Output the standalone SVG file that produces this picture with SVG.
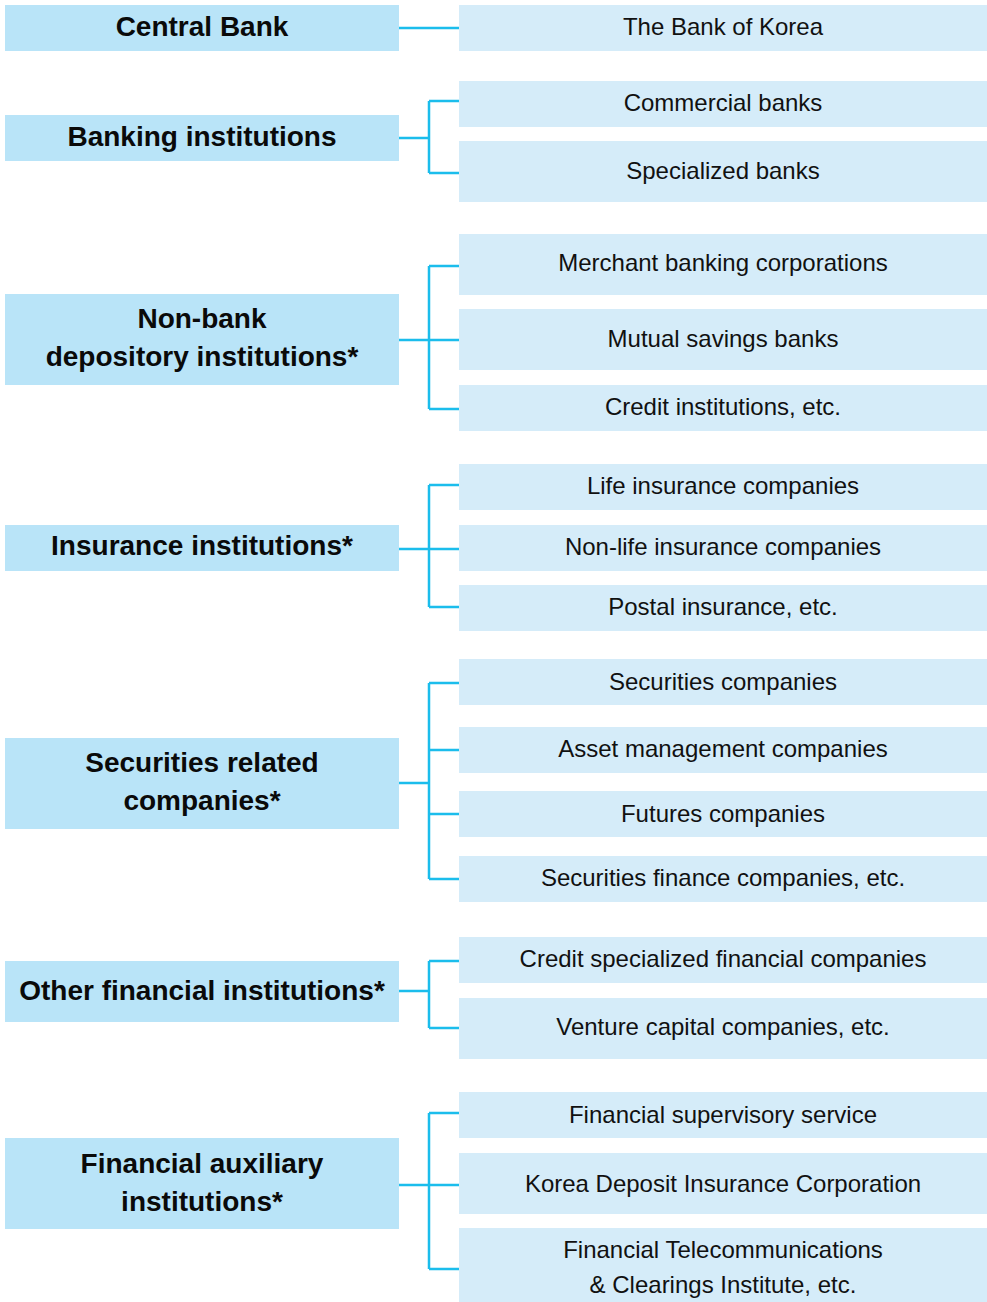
<svg xmlns="http://www.w3.org/2000/svg" width="987" height="1302" viewBox="0 0 987 1302">
  <style>
    .cat { fill: #b9e4f8; }
    .item { fill: #d5ecf9; }
    .lbl { font-family: "Liberation Sans", Arial, sans-serif; font-weight: bold; font-size: 28px; fill: #0a0a0a; text-anchor: middle; }
    .txt { font-family: "Liberation Sans", Arial, sans-serif; font-size: 24px; fill: #111; text-anchor: middle; }
    .wire { fill: none; stroke: #1bbdec; stroke-width: 2.5; }
  </style>
  <rect width="987" height="1302" fill="#ffffff"/>

  <!-- connectors: stub from category, vertical spine at x=429, branches to items -->
  <g id="connectors" class="wire">
    <path d="M399 28 H459"/>
    <path d="M399 138 H429 M429 101 V173 M429 101 H459 M429 173 H459"/>
    <path d="M399 340 H429 M429 266 V409 M429 266 H459 M429 340 H459 M429 409 H459"/>
    <path d="M399 549 H429 M429 485 V607 M429 485 H459 M429 549 H459 M429 607 H459"/>
    <path d="M399 783 H429 M429 683 V879 M429 683 H459 M429 750 H459 M429 814 H459 M429 879 H459"/>
    <path d="M399 991 H429 M429 961 V1028 M429 961 H459 M429 1028 H459"/>
    <path d="M399 1185 H429 M429 1113 V1269 M429 1113 H459 M429 1185 H459 M429 1269 H459"/>
  </g>

  <!-- categories -->
  <g id="central-bank">
    <rect class="cat" x="5" y="5" width="394" height="46"/>
    <text class="lbl" x="202" y="36">Central Bank</text>
  </g>
  <g id="banking">
    <rect class="cat" x="5" y="115" width="394" height="46"/>
    <text class="lbl" x="202" y="146">Banking institutions</text>
  </g>
  <g id="non-bank">
    <rect class="cat" x="5" y="294" width="394" height="91"/>
    <text class="lbl" x="202" y="328">Non-bank</text>
    <text class="lbl" x="202" y="366">depository institutions*</text>
  </g>
  <g id="insurance">
    <rect class="cat" x="5" y="525" width="394" height="46"/>
    <text class="lbl" x="202" y="555">Insurance institutions*</text>
  </g>
  <g id="securities">
    <rect class="cat" x="5" y="738" width="394" height="91"/>
    <text class="lbl" x="202" y="772">Securities related</text>
    <text class="lbl" x="202" y="810">companies*</text>
  </g>
  <g id="other-financial">
    <rect class="cat" x="5" y="961" width="394" height="61"/>
    <text class="lbl" x="202" y="1000">Other financial institutions*</text>
  </g>
  <g id="auxiliary">
    <rect class="cat" x="5" y="1138" width="394" height="91"/>
    <text class="lbl" x="202" y="1173">Financial auxiliary</text>
    <text class="lbl" x="202" y="1211">institutions*</text>
  </g>

  <!-- member institutions -->
  <g id="bank-of-korea">
    <rect class="item" x="459" y="5" width="528" height="46"/>
    <text class="txt" x="723" y="35">The Bank of Korea</text>
  </g>
  <g id="commercial-banks">
    <rect class="item" x="459" y="81" width="528" height="46"/>
    <text class="txt" x="723" y="111">Commercial banks</text>
  </g>
  <g id="specialized-banks">
    <rect class="item" x="459" y="141" width="528" height="61"/>
    <text class="txt" x="723" y="179">Specialized banks</text>
  </g>
  <g id="merchant-banking">
    <rect class="item" x="459" y="234" width="528" height="61"/>
    <text class="txt" x="723" y="271">Merchant banking corporations</text>
  </g>
  <g id="mutual-savings">
    <rect class="item" x="459" y="309" width="528" height="61"/>
    <text class="txt" x="723" y="347">Mutual savings banks</text>
  </g>
  <g id="credit-institutions">
    <rect class="item" x="459" y="385" width="528" height="46"/>
    <text class="txt" x="723" y="415">Credit institutions, etc.</text>
  </g>
  <g id="life-insurance">
    <rect class="item" x="459" y="464" width="528" height="46"/>
    <text class="txt" x="723" y="494">Life insurance companies</text>
  </g>
  <g id="non-life-insurance">
    <rect class="item" x="459" y="525" width="528" height="46"/>
    <text class="txt" x="723" y="555">Non-life insurance companies</text>
  </g>
  <g id="postal-insurance">
    <rect class="item" x="459" y="585" width="528" height="46"/>
    <text class="txt" x="723" y="615">Postal insurance, etc.</text>
  </g>
  <g id="securities-companies">
    <rect class="item" x="459" y="659" width="528" height="46"/>
    <text class="txt" x="723" y="690">Securities companies</text>
  </g>
  <g id="asset-management">
    <rect class="item" x="459" y="727" width="528" height="46"/>
    <text class="txt" x="723" y="757">Asset management companies</text>
  </g>
  <g id="futures">
    <rect class="item" x="459" y="791" width="528" height="46"/>
    <text class="txt" x="723" y="822">Futures companies</text>
  </g>
  <g id="securities-finance">
    <rect class="item" x="459" y="856" width="528" height="46"/>
    <text class="txt" x="723" y="886">Securities finance companies, etc.</text>
  </g>
  <g id="credit-specialized">
    <rect class="item" x="459" y="937" width="528" height="46"/>
    <text class="txt" x="723" y="967">Credit specialized financial companies</text>
  </g>
  <g id="venture-capital">
    <rect class="item" x="459" y="998" width="528" height="61"/>
    <text class="txt" x="723" y="1035">Venture capital companies, etc.</text>
  </g>
  <g id="supervisory-service">
    <rect class="item" x="459" y="1092" width="528" height="46"/>
    <text class="txt" x="723" y="1123">Financial supervisory service</text>
  </g>
  <g id="deposit-insurance">
    <rect class="item" x="459" y="1153" width="528" height="61"/>
    <text class="txt" x="723" y="1192">Korea Deposit Insurance Corporation</text>
  </g>
  <g id="telecom-clearings">
    <rect class="item" x="459" y="1228" width="528" height="74"/>
    <text class="txt" x="723" y="1258">Financial Telecommunications</text>
    <text class="txt" x="723" y="1293">&amp; Clearings Institute, etc.</text>
  </g>
</svg>
